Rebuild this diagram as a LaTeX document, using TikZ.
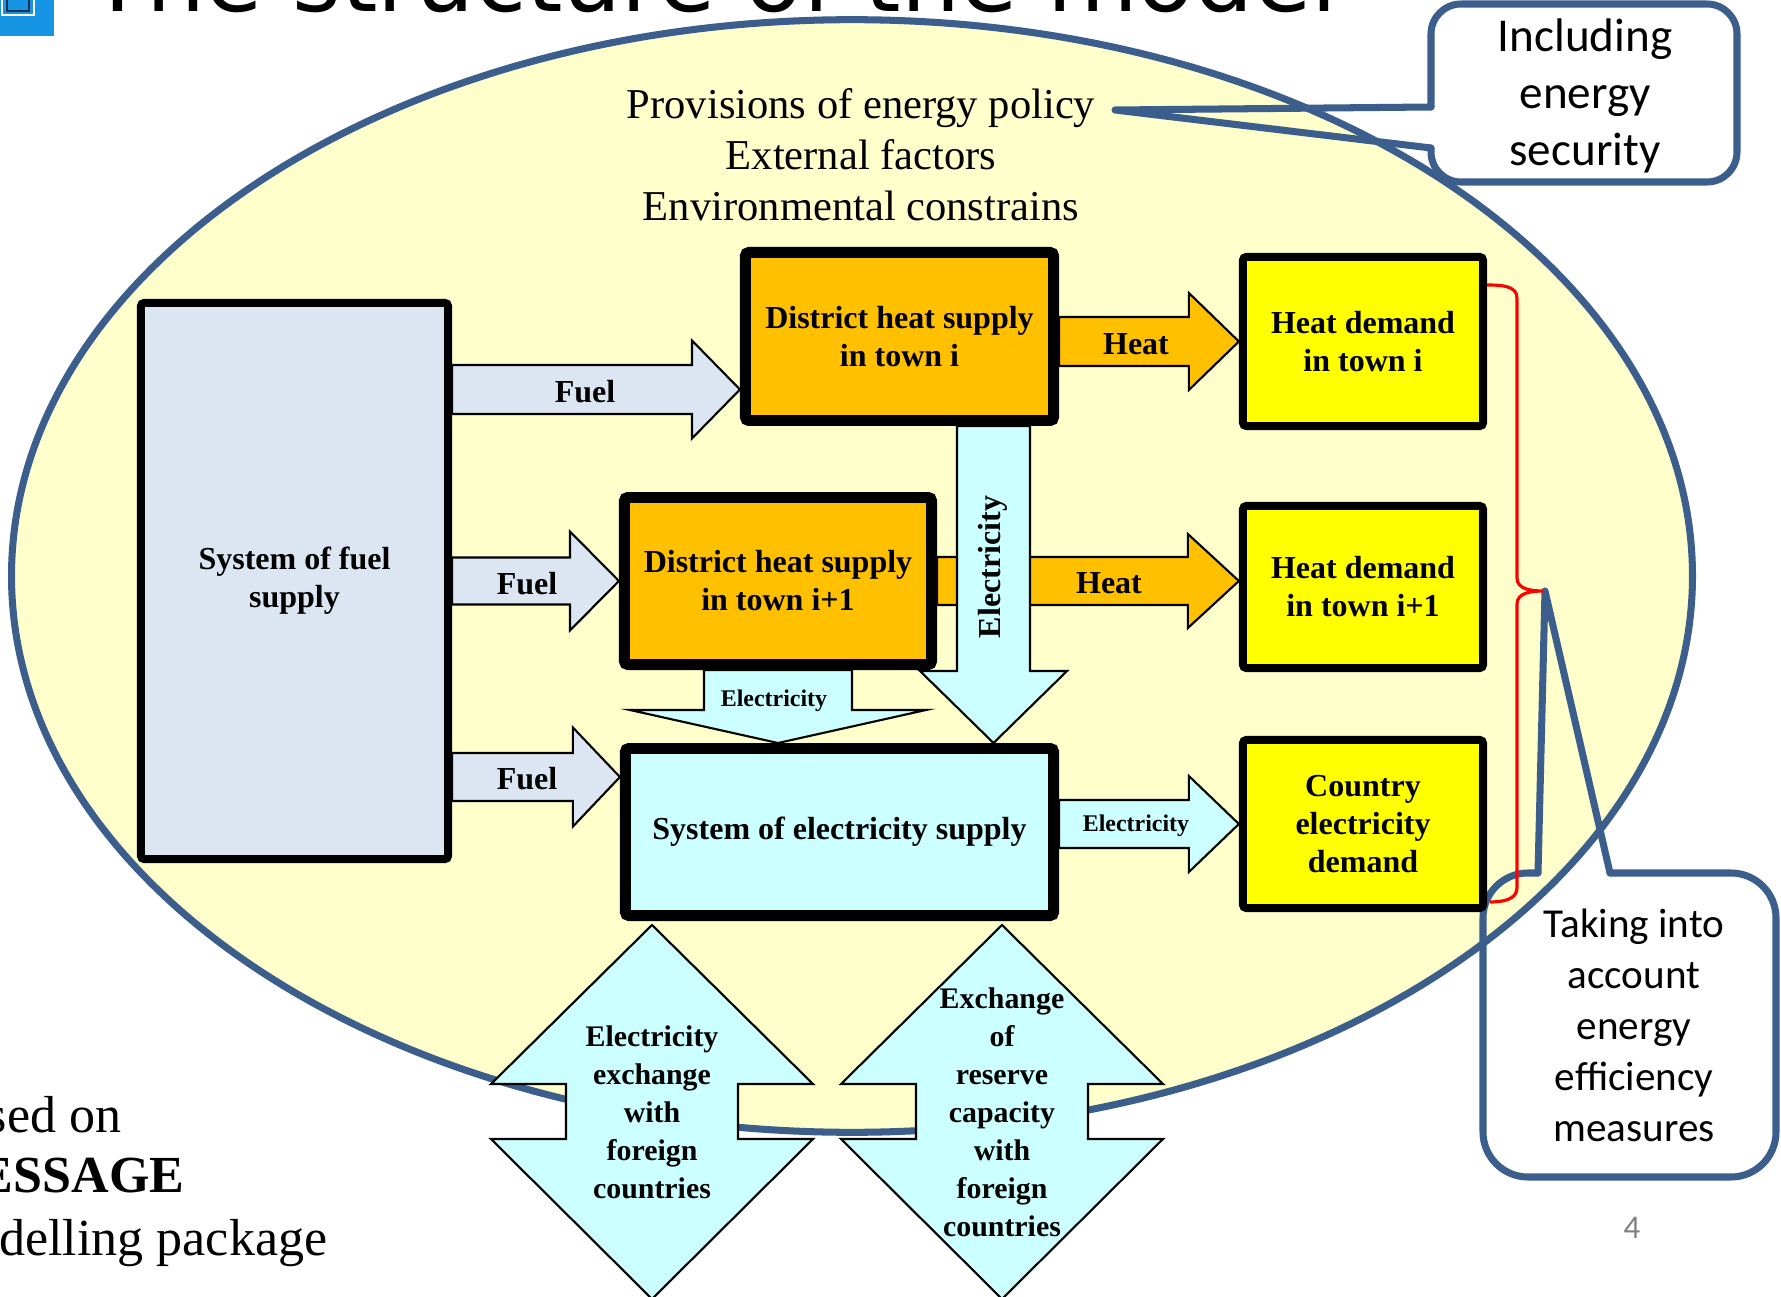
\documentclass[tikz,border=0pt]{standalone}
\usepackage{fontspec}
\setmainfont{Liberation Serif}
\newfontfamily\calibri{Carlito}
\newfontfamily\titlefont{DejaVu Sans}
\usetikzlibrary{calc,positioning}

\definecolor{ovalfill}{HTML}{FFFFCC}
\definecolor{ovalline}{HTML}{3B5E8C}
\definecolor{fuelblue}{HTML}{DCE6F2}
\definecolor{heatorange}{HTML}{FFC000}
\definecolor{demandyellow}{HTML}{FFFF00}
\definecolor{eleccyan}{HTML}{CCFFFF}
\definecolor{logoblue}{HTML}{1595E3}
\definecolor{logonavy}{HTML}{1F3050}

\tikzset{
  box/.style={draw=black, line width=2.3pt, rounded corners=1pt, align=center,
    inner sep=0pt, font=\bfseries\fontsize{9.1}{10.8}\selectfont},
  bigbox/.style={box, line width=3.1pt},
  blockarrow/.style={draw=black, line width=0.6pt},
  arrowtext/.style={font=\bfseries\fontsize{9.1}{10.8}\selectfont},
  smallarrowtext/.style={font=\bfseries\fontsize{6.8}{8}\selectfont},
  callout/.style={draw=ovalline, line width=2pt, line cap=round, line join=round},
  bracket/.style={draw=red, line width=0.9pt},
  note/.style={anchor=base east, inner sep=0pt, font=\fontsize{14.8}{17.6}\selectfont},
}

% horizontal block arrow: fill, start, tip, shaft half width, head half width, head length
\newcommand\harrow[6]{%
  \draw[blockarrow, fill=#1] ($(#2)+(0,-#4)$) -- ($(#3)+(-#6,-#4)$)
    -- ($(#3)+(-#6,-#5)$) -- (#3) -- ($(#3)+(-#6,#5)$)
    -- ($(#3)+(-#6,#4)$) -- ($(#2)+(0,#4)$) -- cycle;}
% downward block arrow, same arguments
\newcommand\varrow[6]{%
  \draw[blockarrow, fill=#1] ($(#2)+(-#4,0)$) -- ($(#3)+(-#4,-#6)$)
    -- ($(#3)+(-#5,-#6)$) -- (#3) -- ($(#3)+(#5,-#6)$)
    -- ($(#3)+(#4,-#6)$) -- ($(#2)+(#4,0)$) -- cycle;}
% up-down exchange arrow round a centre x
\newcommand\exchangearrow[1]{%
  \draw[blockarrow, fill=eleccyan] (#1,925) -- ({#1+161},1084) -- ({#1+86},1084)
    -- ({#1+86},1139) -- ({#1+161},1139) -- (#1,1299) -- ({#1-161},1139)
    -- ({#1-86},1139) -- ({#1-86},1084) -- ({#1-161},1084) -- cycle;}

\begin{document}
\begin{tikzpicture}[x=0.01cm, y=-0.01cm]
\useasboundingbox (0,0) rectangle (1781,1297);
\clip (0,0) rectangle (1781,1297);

% slide title, cut by the top edge
\fill[logoblue] (0,0) rectangle (54,36);
\draw[white, line width=0.8pt] (2,-5) rectangle (34,15);
\draw[logonavy, line width=0.8pt] (7,-5) rectangle (29,11);
\node[anchor=base west, inner sep=0pt, font=\titlefont\fontsize{26.5}{30}\selectfont] (title) at (89,12) {The structure of the model};

% the model
\draw[fill=ovalfill, draw=ovalline, line width=2pt] (852,576) ellipse [x radius=8.4cm, y radius=5.56cm];

% callouts
\draw[callout, rounded corners=0.3cm] (1431,148) -- (1431,182) -- (1737,182) -- (1737,4) -- (1431,4) -- (1431,107);
\draw[callout] (1431,107) -- (1115,110) -- (1431,148);
\node[align=center, font=\calibri\fontsize{13.4}{16.2}\selectfont] (security) at (1585,96) {Including\\energy\\security};
\draw[callout, rounded corners=0.45cm] (1610,873) -- (1776,873) -- (1776,1177) -- (1483,1177) -- (1483,873) -- (1538,873);
\draw[callout] (1538,873) -- (1545,591) -- (1610,873);
\node[align=center, font=\calibri\fontsize{11.7}{14.5}\selectfont] (efficiency) at (1634,1025) {Taking into\\account\\energy\\efficiency\\measures};

% conditions
\node[anchor=base, font=\fontsize{12.1}{14.5}\selectfont] (policy) at (861,119) {Provisions of energy policy};
\node[anchor=base, font=\fontsize{12.1}{14.5}\selectfont] (external) at (861,170) {External factors};
\node[anchor=base, font=\fontsize{12.1}{14.5}\selectfont] (environment) at (861,221) {Environmental constrains};

% boxes
\node[box, fill=fuelblue, minimum width=3.07cm, minimum height=5.56cm] (fuelsys) at (294.5,581) {System of fuel\\supply};
\node[bigbox, fill=heatorange, minimum width=3.08cm, minimum height=1.68cm] (dh1) at (899.5,336.5) {District heat supply\\in town i};
\node[bigbox, fill=heatorange, minimum width=3.07cm, minimum height=1.67cm] (dh2) at (778,581) {District heat supply\\in town i+1};
\node[bigbox, fill=eleccyan, minimum width=4.28cm, minimum height=1.67cm] (elsys) at (839.5,832) {System of electricity supply};
\node[box, fill=demandyellow, minimum width=2.40cm, minimum height=1.69cm] (hd1) at (1363,341.5) {Heat demand\\in town i};
\node[box, fill=demandyellow, minimum width=2.40cm, minimum height=1.62cm] (hd2) at (1363,587) {Heat demand\\in town i+1};
\node[box, fill=demandyellow, minimum width=2.40cm, minimum height=1.68cm] (cdem) at (1363,824) {Country\\electricity\\demand};

% flows
\coordinate (fuelA) at (fuelsys.east |- 0,389.5);
\coordinate (fuelAtip) at (dh1.west |- fuelA);
\coordinate (fuelB) at (fuelsys.east |- dh2.west);
\coordinate (fuelC) at (fuelsys.east |- 0,777);
\coordinate (fuelCtip) at (elsys.west |- fuelC);
\coordinate (heatA) at (dh1.east |- hd1.west);
\coordinate (heatBtip) at (hd2.west |- dh2.east);
\coordinate (elecA) at (993.5,0 |- dh1.south);
\coordinate (elecAtip) at (elecA |- elsys.north);
\coordinate (elecBtip) at (dh2.south |- elsys.north);
\coordinate (elecC) at (elsys.east |- cdem.west);

\harrow{fuelblue}{fuelA}{fuelAtip}{24.5}{49}{48}
\harrow{fuelblue}{fuelB}{dh2.west}{23.5}{49.5}{49}
\harrow{fuelblue}{fuelC}{fuelCtip}{24}{49.5}{47}
\harrow{heatorange}{heatA}{hd1.west}{24.5}{48.5}{50}
\harrow{heatorange}{dh2.east}{heatBtip}{24}{47}{51}
\varrow{eleccyan}{elecA}{elecAtip}{36.5}{73.5}{72}
\varrow{eleccyan}{dh2.south}{elecBtip}{74}{148}{33}
\harrow{eleccyan}{elecC}{cdem.west}{24}{48}{50}

\node[arrowtext] (fuel1) at (585,392) {Fuel};
\node[arrowtext] (fuel2) at (527,584) {Fuel};
\node[arrowtext] (fuel3) at (527,779) {Fuel};
\node[arrowtext] (heat1) at (1136,344) {Heat};
\node[arrowtext] (heat2) at (1109,583) {Heat};
\node[arrowtext, rotate=90] (elec1) at (993,567) {Electricity};
\node[smallarrowtext] (elec2) at (774,701) {Electricity};
\node[smallarrowtext] (elec3) at (1136,826) {Electricity};

% demand bracket
\draw[bracket] (1487,285) to[out=0,in=90] (1517,298) -- (1517,578) to[out=-90,in=180] (1543,591)
  to[out=180,in=90] (1517,604) -- (1517,888) to[out=-90,in=0] (1490,902);

% exchange with foreign countries
\exchangearrow{652}
\exchangearrow{1002}
\node[align=center, font=\bfseries\fontsize{8.5}{10.8}\selectfont] (exch1) at (652,1112) {Electricity\\exchange\\with\\foreign\\countries};
\node[align=center, font=\bfseries\fontsize{8.5}{10.8}\selectfont] (exch2) at (1002,1112) {Exchange\\of\\reserve\\capacity\\with\\foreign\\countries};

% left note and page number
\node[note] (based) at (122,1132) {Based on};
\node[note, font=\bfseries\fontsize{14.8}{17.6}\selectfont] (message) at (185,1192) {MESSAGE};
\node[note] (package) at (328,1255) {modelling package};
\node[anchor=base, text=gray, font=\calibri\fontsize{9.4}{11}\selectfont] (page) at (1632,1238) {4};
\end{tikzpicture}
\end{document}
